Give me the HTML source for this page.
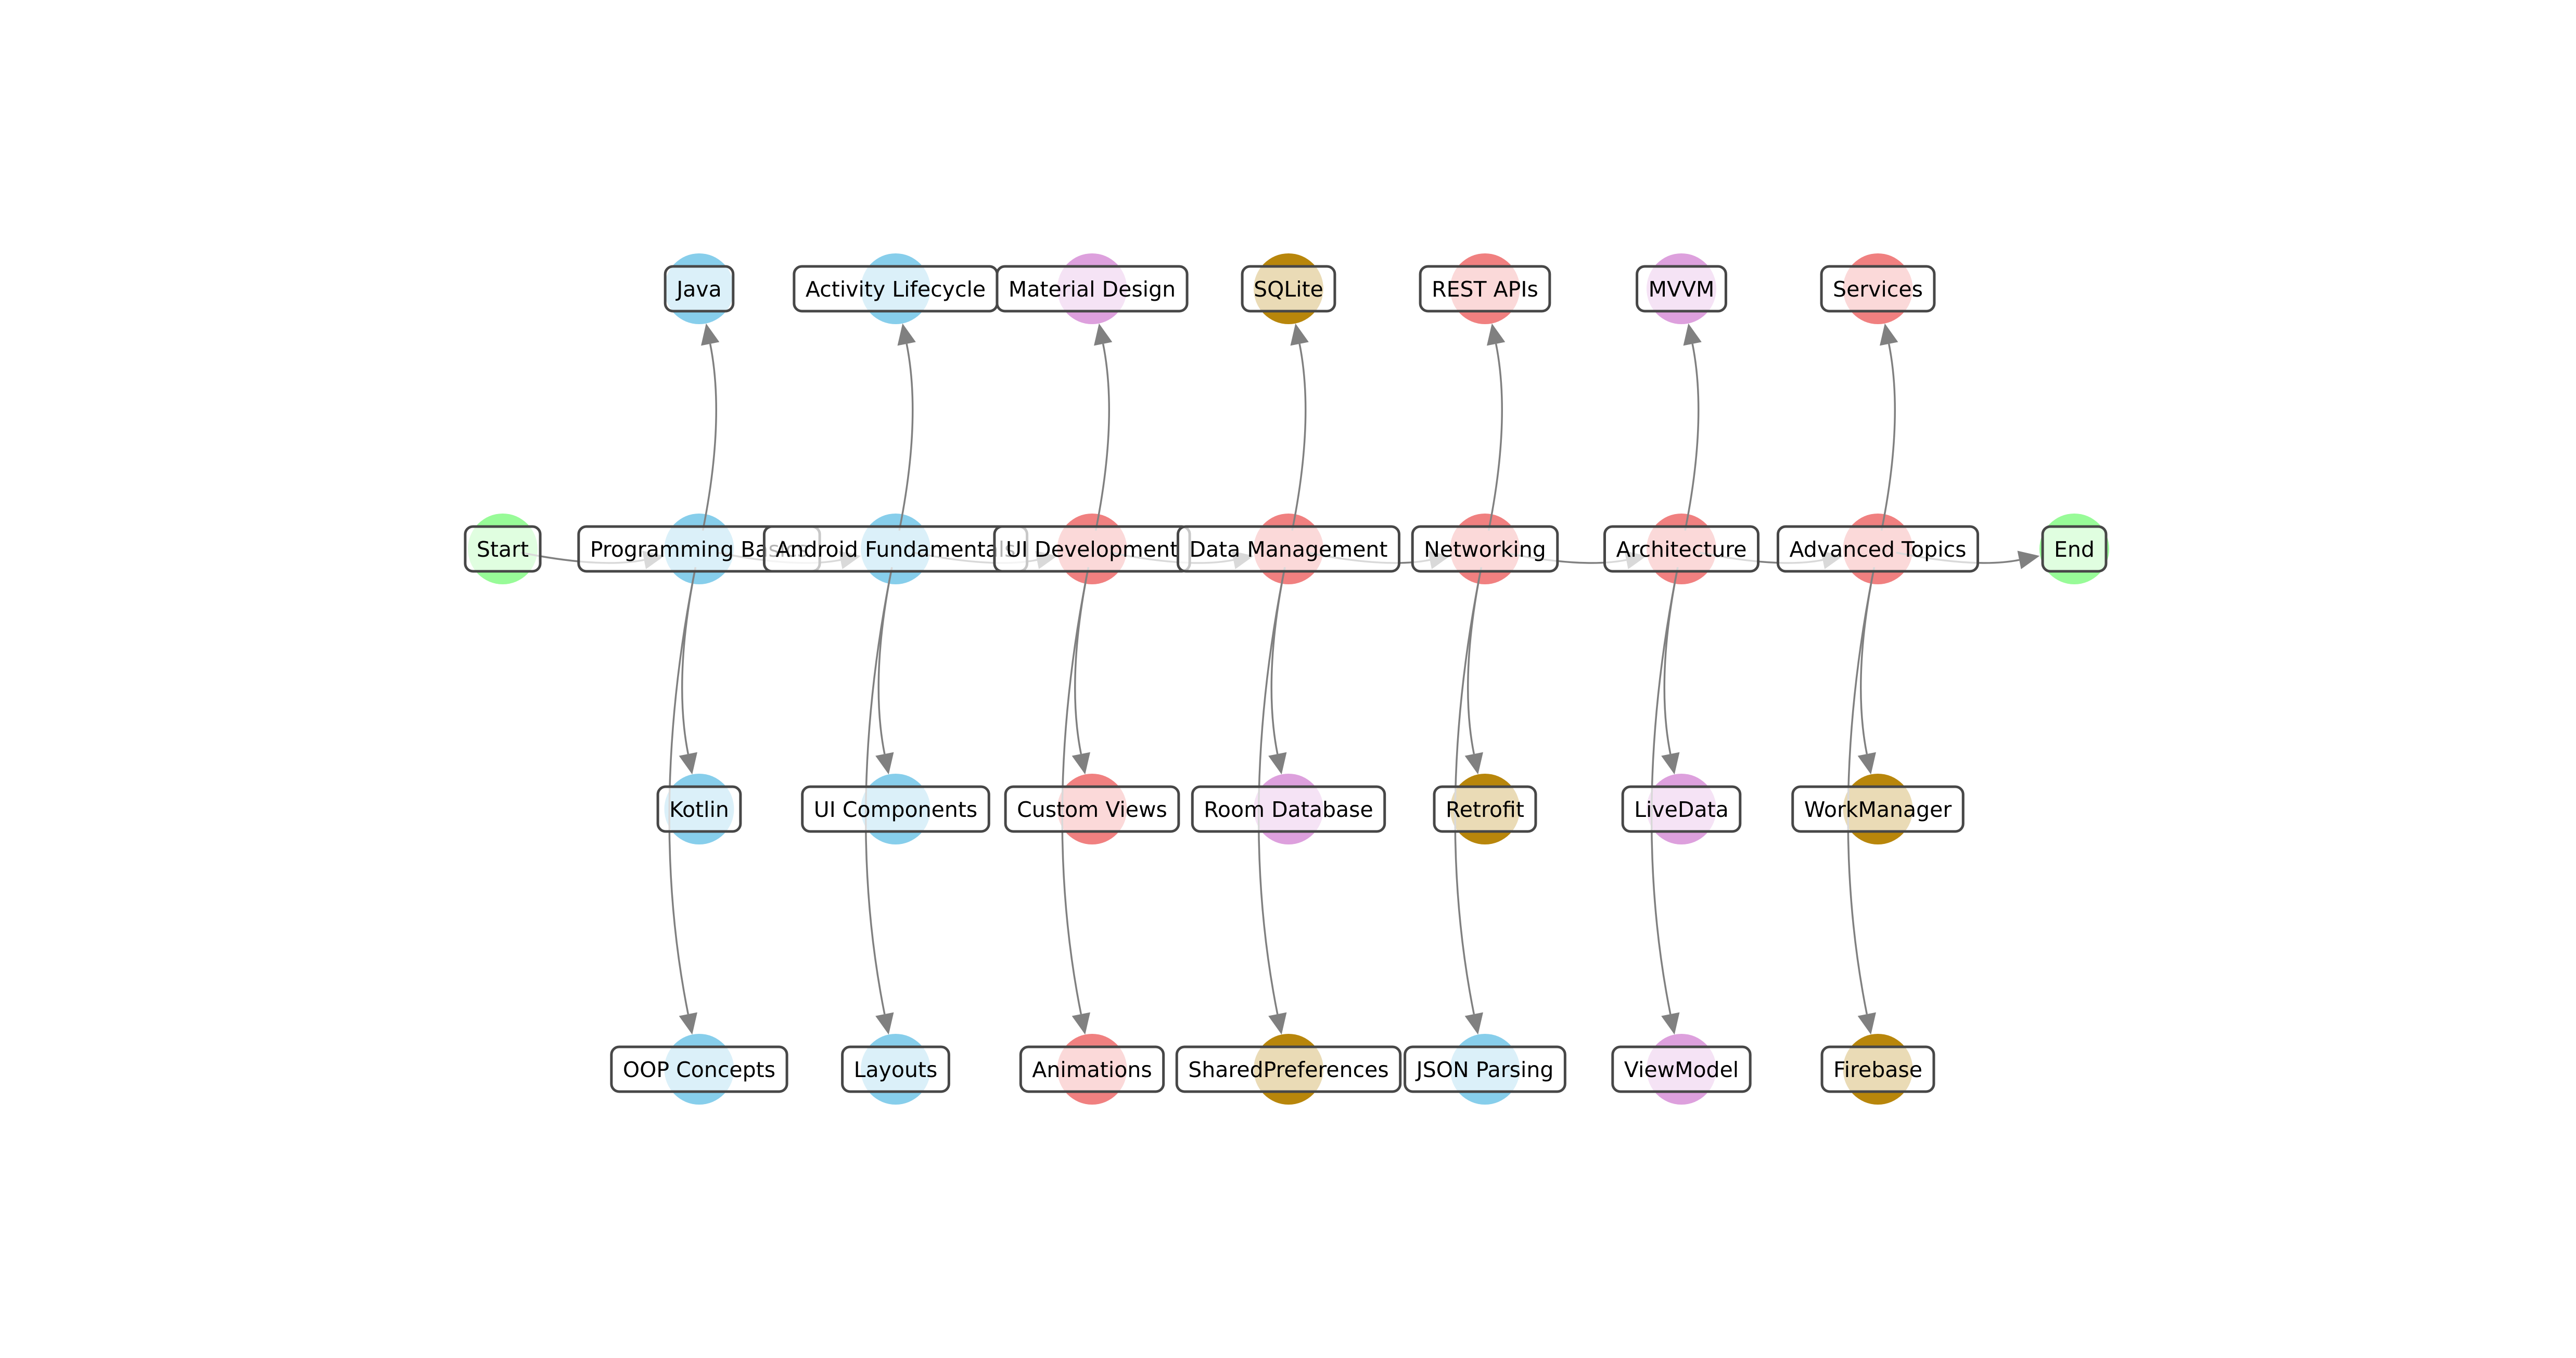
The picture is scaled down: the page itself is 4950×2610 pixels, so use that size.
<!DOCTYPE html>
<html><head><meta charset="utf-8">
<style>html,body{margin:0;padding:0;background:#fff;}svg{display:block;}</style>
</head><body>
<svg id="chart" width="4950" height="2610" viewBox="0 0 4950 2610" xmlns="http://www.w3.org/2000/svg">
<g id="nodes"></g><g id="edges"></g><g id="labels"></g>
</svg>
<script>
const mainNames = ["Start","Programming Basics","Android Fundamentals","UI Development","Data Management","Networking","Architecture","Advanced Topics","End"];
const mainColors = ["palegreen","sky","sky","coral","coral","coral","coral","coral","palegreen"];
const topNames = ["Java","Activity Lifecycle","Material Design","SQLite","REST APIs","MVVM","Services"];
const topColors = ["sky","sky","plum","gold","coral","plum","coral"];
const midNames = ["Kotlin","UI Components","Custom Views","Room Database","Retrofit","LiveData","WorkManager"];
const midColors = ["sky","sky","coral","plum","gold","plum","gold"];
const lowNames = ["OOP Concepts","Layouts","Animations","SharedPreferences","JSON Parsing","ViewModel","Firebase"];
const lowColors = ["sky","sky","coral","gold","sky","plum","gold"];

const palette = {sky:"#87CEEB",coral:"#F08080",plum:"#DDA0DD",gold:"#B8860B",palegreen:"#98FB98"};
const X0 = 966, DX = 377.5;
const rowY = {top:555, main:1055, mid:1555, low:2055};
const R = 67, SHRINK_A = 36, SHRINK_B = 68, RAD = 0.1;
const NS = "http://www.w3.org/2000/svg";
const gN = document.getElementById('nodes'), gE = document.getElementById('edges'), gL = document.getElementById('labels');
function colX(i){return X0 + DX*i;}
function slug(s){return s.toLowerCase().replace(/[^a-z0-9]+/g,'-');}

function node(name, color, x, y){
  const c = document.createElementNS(NS,'ellipse');
  c.setAttribute('cx',x);c.setAttribute('cy',y);c.setAttribute('rx',R);c.setAttribute('ry',R+1);
  c.setAttribute('fill',palette[color]);
  
  
  gN.appendChild(c);
  const g = document.createElementNS(NS,'g');
  
  
  const r = document.createElementNS(NS,'rect');
  const t = document.createElementNS(NS,'text');
  t.setAttribute('x',x);t.setAttribute('y',y+15);
  t.setAttribute('text-anchor','middle');
  t.setAttribute('font-family','"DejaVu Sans","Liberation Sans",sans-serif');
  t.setAttribute('font-size','41');t.setAttribute('fill','#000');
  t.textContent = name;
  g.appendChild(r);g.appendChild(t);gL.appendChild(g);
  const w = t.getComputedTextLength() + 44;
  r.setAttribute('x',x-w/2);r.setAttribute('y',y-43);r.setAttribute('width',w);r.setAttribute('height',86);
  r.setAttribute('rx',15);r.setAttribute('fill','rgba(255,255,255,0.7)');
  r.setAttribute('stroke','#474747');r.setAttribute('stroke-width','5');
}
function unit(dx,dy){const l=Math.hypot(dx,dy);return [dx/l,dy/l];}
function edge(ax,ay,bx,by,name){
  const dx=bx-ax, dy=by-ay;
  const cx=(ax+bx)/2 + (-dy)*RAD, cy=(ay+by)/2 + dx*RAD;
  const ua=unit(cx-ax,cy-ay), ub=unit(cx-bx,cy-by);
  const p0=[ax+ua[0]*SHRINK_A, ay+ua[1]*SHRINK_A];
  const tip=[bx+ub[0]*SHRINK_B, by+ub[1]*SHRINK_B];
  const base=[tip[0]+ub[0]*40, tip[1]+ub[1]*40];
  const g=document.createElementNS(NS,'g');
  
  
  const p=document.createElementNS(NS,'path');
  p.setAttribute('d',`M${p0[0]},${p0[1]} Q${cx},${cy} ${base[0]},${base[1]}`);
  p.setAttribute('fill','none');p.setAttribute('stroke','#808080');p.setAttribute('stroke-width','3.5');
  const px=-ub[1], py=ub[0];
  const a=document.createElementNS(NS,'polygon');
  a.setAttribute('points',`${tip[0]},${tip[1]} ${base[0]+px*18},${base[1]+py*18} ${base[0]-px*18},${base[1]-py*18}`);
  a.setAttribute('fill','#808080');
  g.appendChild(p);g.appendChild(a);gE.appendChild(g);
}
mainNames.forEach((n,i)=>node(n,mainColors[i],colX(i),rowY.main));
topNames.forEach((n,i)=>node(n,topColors[i],colX(i+1),rowY.top));
midNames.forEach((n,i)=>node(n,midColors[i],colX(i+1),rowY.mid));
lowNames.forEach((n,i)=>node(n,lowColors[i],colX(i+1),rowY.low));
for(let i=0;i<mainNames.length-1;i++) edge(colX(i),rowY.main,colX(i+1),rowY.main,'edge-'+slug(mainNames[i])+'-to-'+slug(mainNames[i+1]));
for(let i=0;i<topNames.length;i++){
  const x=colX(i+1);
  edge(x,rowY.main,x,rowY.top,'edge-to-'+slug(topNames[i]));
  edge(x,rowY.main,x,rowY.mid,'edge-to-'+slug(midNames[i]));
  edge(x,rowY.main,x,rowY.low,'edge-to-'+slug(lowNames[i]));
}
</script>
</body></html>
